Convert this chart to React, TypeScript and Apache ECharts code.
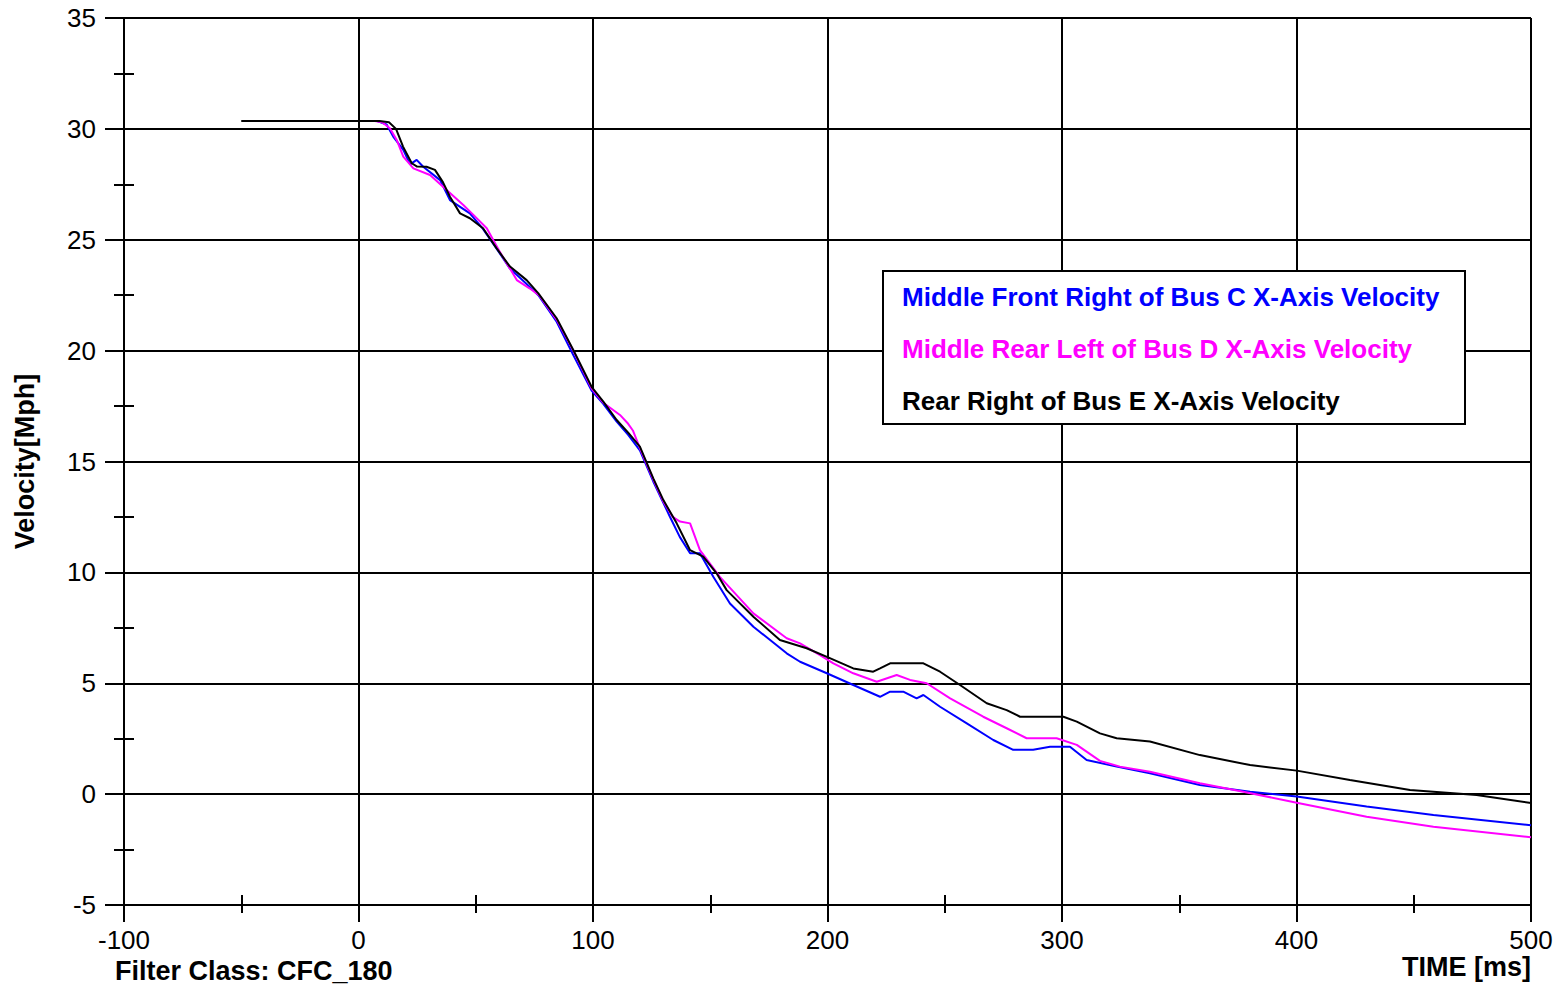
import React, { useEffect, useRef } from "react";
import * as echarts from "echarts";

const seriesNames = [
  "Middle Front Right of Bus C X-Axis Velocity",
  "Middle Rear Left of Bus D X-Axis Velocity",
  "Rear Right of Bus E X-Axis Velocity",
];
const seriesColors = ["#0000FF", "#FF00FF", "#000000"];

const blueData: [number, number][] = [
  [8, 30.35], [12, 30.2], [14.8, 29.65], [19.1, 29.05], [22, 28.4], [24.8, 28.6], [27.6, 28.29],
  [34.8, 27.69], [39, 26.79], [47.5, 26.19], [53, 25.5], [58.9, 24.6], [64.6, 23.7], [71.7, 23.0],
  [76.7, 22.5], [84.5, 21.3], [91.6, 19.8], [99.4, 18.2], [104.4, 17.6], [110.1, 16.8], [115, 16.2],
  [120, 15.5], [125.7, 14.1], [132.8, 12.51], [137, 11.6], [141.4, 10.86], [145.6, 10.86],
  [151.3, 9.8], [158.4, 8.6], [168.4, 7.55], [182.6, 6.35], [188.3, 5.97], [199.7, 5.45],
  [211, 4.92], [222.4, 4.39], [226.7, 4.62], [232.3, 4.62], [238, 4.32], [240.9, 4.47],
  [248, 3.94], [259.4, 3.19], [270.7, 2.44], [279.2, 2.0], [287.7, 2.0], [294.9, 2.14],
  [303.4, 2.14], [310.5, 1.54], [323.3, 1.24], [337.5, 0.94], [358.8, 0.41], [380.2, 0.11],
  [400.1, -0.11], [429.9, -0.56], [458.4, -0.94], [500, -1.4],
];

const magentaData: [number, number][] = [
  [7, 30.35], [10, 30.3], [13.4, 30.03], [16.3, 29.5], [19.1, 28.75], [23.4, 28.22], [30.5, 27.92],
  [37.6, 27.24], [44.7, 26.57], [49, 26.12], [54.7, 25.52], [60, 24.5], [64, 23.8], [67.5, 23.18],
  [73.1, 22.8], [77, 22.5], [84.5, 21.4], [91.6, 20.0], [99.4, 18.3], [104.4, 17.65], [111.5, 17.1],
  [115, 16.7], [117, 16.4], [120, 15.6], [125.7, 14.2], [130, 13.2], [134, 12.5], [137.1, 12.29],
  [141.4, 12.21], [145.6, 11.0], [154.1, 9.8], [168.4, 8.15], [182.6, 7.03], [188.3, 6.8],
  [196.8, 6.27], [202.5, 5.9], [211, 5.45], [221, 5.07], [229.5, 5.37], [235.2, 5.15],
  [242.3, 5.0], [252.3, 4.32], [266.4, 3.49], [276.4, 2.97], [284.9, 2.52], [297.7, 2.52],
  [306.3, 2.22], [316.2, 1.5], [324.7, 1.24], [337.5, 1.01], [358.8, 0.49], [377.3, 0.11],
  [400.1, -0.39], [429.9, -1.02], [458.4, -1.47], [500, -1.95],
];

const blackData: [number, number][] = [
  [-50, 30.35], [9, 30.35], [13, 30.3], [16, 30.0], [19, 29.2], [22.7, 28.45], [25, 28.3],
  [29, 28.29], [32.6, 28.15], [36, 27.6], [39, 26.94], [43.3, 26.19], [47.5, 25.97], [53.1, 25.52],
  [58.9, 24.61], [64.6, 23.79], [71.7, 23.18], [76.7, 22.58], [84.5, 21.46], [91.6, 20.03],
  [99.4, 18.37], [104.4, 17.7], [110.1, 16.87], [115, 16.3], [120, 15.67], [125.7, 14.24],
  [130, 13.26], [135.7, 12.21], [141.4, 11.0], [147, 10.71], [152.7, 9.96], [157, 9.2],
  [168.4, 8.0], [179.7, 6.95], [191.1, 6.58], [201, 6.13], [211, 5.67], [219.5, 5.52],
  [222.4, 5.67], [226.7, 5.9], [240.9, 5.9], [248, 5.52], [256.5, 4.92], [267.9, 4.1],
  [276.4, 3.79], [282.1, 3.49], [300.6, 3.49], [306.3, 3.27], [316.2, 2.74], [323.3, 2.52],
  [337.5, 2.37], [358.8, 1.76], [380.2, 1.31], [400.1, 1.06], [422.8, 0.64], [448.4, 0.19],
  [466.9, 0.04], [476.8, -0.04], [500, -0.4],
];

const xMin = -100, xMax = 500, xStep = 100, xMinorStep = 50;
const yMin = -5, yMax = 35, yStep = 5, yMinorStep = 2.5;
const xTitle = "TIME [ms]";
const yTitle = "Velocity[Mph]";
const footNote = "Filter Class: CFC_180";

const FONT = "'Liberation Sans', Arial, sans-serif";

export default function App() {
  const ref = useRef<HTMLDivElement>(null);
  useEffect(() => {
    if (!ref.current) return;
    const chart = echarts.init(ref.current, undefined, { renderer: "svg" });
    const allData = [blueData, magentaData, blackData];
    const axisLine = { lineStyle: { color: "#000", width: 2 } };
    chart.setOption({
      animation: false,
      backgroundColor: "#fff",
      grid: { left: 124, right: 33, top: 18, bottom: 83, containLabel: false },
      xAxis: [
        {
          type: "value", min: xMin, max: xMax, interval: xStep, position: "bottom",
          axisLine: { show: true, onZero: false, ...axisLine },
          axisTick: { show: true, inside: false, length: 17, lineStyle: { color: "#000", width: 2 } },
          minorTick: { show: true, splitNumber: 2, length: 8, lineStyle: { color: "#000", width: 2 } },
          splitLine: { show: true, lineStyle: { color: "#000", width: 2 } },
          axisLabel: { fontSize: 26, color: "#000", fontFamily: FONT, margin: 22 },
        },
        {
          type: "value", min: xMin, max: xMax, interval: xMinorStep, position: "bottom",
          axisLine: { show: false, onZero: false },
          axisTick: { show: true, inside: true, length: 10, lineStyle: { color: "#000", width: 2 } },
          splitLine: { show: false },
          axisLabel: { show: false },
        },
      ],
      yAxis: [
        {
          type: "value", min: yMin, max: yMax, interval: yStep, position: "left",
          name: yTitle, nameLocation: "middle", nameRotate: 90, nameGap: 86,
          nameTextStyle: { fontSize: 27, fontWeight: "bold", color: "#000", fontFamily: FONT },
          axisLine: { show: true, onZero: false, ...axisLine },
          axisTick: { show: true, inside: false, length: 19, lineStyle: { color: "#000", width: 2 } },
          minorTick: { show: true, splitNumber: 2, length: 10, lineStyle: { color: "#000", width: 2 } },
          splitLine: { show: true, lineStyle: { color: "#000", width: 2 } },
          axisLabel: { fontSize: 26, color: "#000", fontFamily: FONT, margin: 28 },
        },
        {
          type: "value", min: yMin, max: yMax, interval: yMinorStep, position: "left",
          axisLine: { show: false, onZero: false },
          axisTick: { show: true, inside: true, length: 10, lineStyle: { color: "#000", width: 2 } },
          splitLine: { show: false },
          axisLabel: { show: false },
        },
      ],
      series: allData.map((d, i) => ({
        name: seriesNames[i],
        type: "line",
        xAxisIndex: 0,
        yAxisIndex: 0,
        data: d,
        showSymbol: false,
        symbol: "none",
        lineStyle: { color: seriesColors[i], width: 2 },
        itemStyle: { color: seriesColors[i] },
        z: 3 + i,
      })),
      graphic: [
        {
          type: "rect",
          shape: { x: 883, y: 271, width: 582, height: 153 },
          style: { fill: "#fff", stroke: "#000", lineWidth: 2 },
          z: 100,
        },
        ...seriesNames.map((n, i) => ({
          type: "text",
          x: 902,
          y: 297 + i * 52,
          style: {
            text: n, fill: seriesColors[i], fontSize: 26, fontWeight: "bold", fontFamily: FONT,
            textVerticalAlign: "middle", verticalAlign: "middle",
          },
          z: 101,
        })),
        {
          type: "text", x: 115, y: 971,
          style: {
            text: footNote, fill: "#000", fontSize: 27, fontWeight: "bold", fontFamily: FONT,
            textVerticalAlign: "middle", verticalAlign: "middle",
          },
        },
        {
          type: "text", x: 1531, y: 967,
          style: {
            text: xTitle, fill: "#000", fontSize: 27, fontWeight: "bold", fontFamily: FONT,
            textAlign: "right", align: "right", textVerticalAlign: "middle", verticalAlign: "middle",
          },
        },
      ],
    });
    return () => chart.dispose();
  }, []);
  return (
    <div
      ref={ref}
      style={{ position: "absolute", left: 0, top: 0, width: 1564, height: 988, background: "#fff" }}
    />
  );
}
